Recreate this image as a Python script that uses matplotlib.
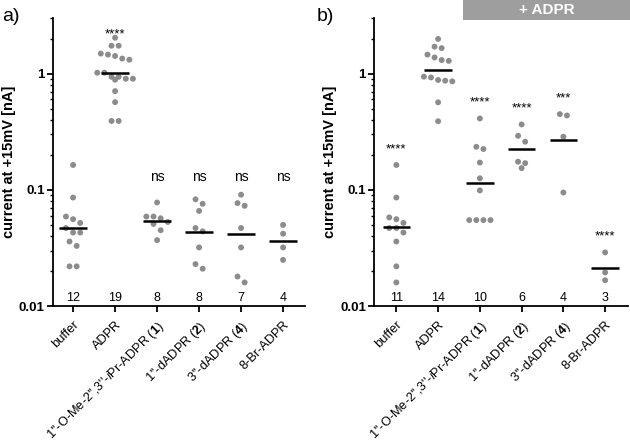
import matplotlib
matplotlib.use("Agg")
import matplotlib.pyplot as plt
from matplotlib.patches import Rectangle
from matplotlib.ticker import FixedLocator, LogLocator, NullFormatter
from matplotlib.transforms import ScaledTranslation
import numpy as np

plt.rcParams["font.family"] = ["Liberation Sans", "DejaVu Sans"]
plt.rcParams["mathtext.fontset"] = "custom"
plt.rcParams["mathtext.rm"] = "Liberation Sans"
plt.rcParams["mathtext.it"] = "Liberation Sans:italic"
plt.rcParams["mathtext.bf"] = "Liberation Sans:bold"

categories = [
    "buffer",
    "ADPR",
    r"1''-O-Me-2'',3''-$\mathit{i}$Pr-ADPR ($\mathbf{1}$)",
    r"1''-dADPR ($\mathbf{2}$)",
    r"3''-dADPR ($\mathbf{4}$)",
    "8-Br-ADPR",
]

# panel a: compounds alone
a_buffer = [0.164, 0.086, 0.059, 0.056, 0.052, 0.047, 0.043, 0.043, 0.036, 0.033, 0.022, 0.022]
a_adpr = [2.04, 1.74, 1.74, 1.49, 1.46, 1.42, 1.35, 1.32, 1.02, 1.02,
          0.94, 0.94, 0.905, 0.905, 0.887, 0.708, 0.569, 0.392, 0.392]
a_cmpd1 = [0.078, 0.059, 0.059, 0.057, 0.053, 0.051, 0.045, 0.037]
a_cmpd2 = [0.083, 0.076, 0.066, 0.047, 0.044, 0.032, 0.023, 0.021]
a_cmpd4 = [0.091, 0.077, 0.073, 0.047, 0.032, 0.018, 0.016]
a_8br = [0.050, 0.042, 0.032, 0.025]
a_sig = ["", "****", "ns", "ns", "ns", "ns"]

# panel b: compounds + ADPR
b_buffer = [0.164, 0.086, 0.058, 0.056, 0.052, 0.047, 0.047, 0.043, 0.036, 0.022, 0.016]
b_adpr = [1.99, 1.71, 1.66, 1.46, 1.38, 1.31, 1.29, 0.943, 0.929, 0.883, 0.871, 0.859, 0.567, 0.390]
b_cmpd1 = [0.412, 0.235, 0.225, 0.172, 0.126, 0.099, 0.055, 0.055, 0.055, 0.055]
b_cmpd2 = [0.366, 0.292, 0.260, 0.175, 0.170, 0.154]
b_cmpd4 = [0.449, 0.437, 0.287, 0.095]
b_8br = [0.029, 0.0195, 0.0167]
b_sig = ["****", "", "****", "****", "***", "****"]

DOT = "#8c8c8c"


def row_offsets(vals, h=0.055, step=0.17):
    # prism-style scatter: group points of similar height in rows, centred
    logv = np.log10(vals)
    order = np.argsort(logv)[::-1]
    rows, start = [], None
    for idx in order:
        if start is None or start - logv[idx] > h:
            rows.append([idx])
            start = logv[idx]
        else:
            rows[-1].append(idx)
    offs = np.zeros(len(vals))
    for r in rows:
        for k, idx in enumerate(r):
            offs[idx] = (k - (len(r) - 1) / 2) * step
    return offs


def draw_panel(fig, ax, groups, sig, star_off, xlim):
    for i, vals in enumerate(groups):
        vals = np.asarray(vals)
        x = i + row_offsets(vals)
        ax.scatter(x, vals, s=18, color=DOT, edgecolor="none", zorder=2)
        gm = 10 ** np.mean(np.log10(vals))
        ax.hlines(gm, i - 0.33, i + 0.33, color="black", lw=1.8, zorder=3)
        ax.annotate(str(len(vals)), (i, 0), xycoords=("data", "axes fraction"),
                    xytext=(0, 6), textcoords="offset points",
                    ha="center", va="center", fontsize=9)

    ns_top = max([max(g) for g, s in zip(groups, sig) if s == "ns"], default=None)
    for i, (vals, s) in enumerate(zip(groups, sig)):
        if not s:
            continue
        if s == "ns":
            ax.annotate(s, (i, ns_top), xytext=(0, 13), textcoords="offset points",
                        ha="center", va="center", fontsize=10)
        else:
            ax.annotate(s, (i, max(vals)), xytext=(0, star_off), textcoords="offset points",
                        ha="center", va="center", fontsize=9.5)

    ax.set_yscale("log")
    ax.set_ylim(0.01, 3)
    ax.set_xlim(*xlim)
    ax.yaxis.set_major_locator(FixedLocator([0.01, 0.1, 1]))
    ax.set_yticklabels(["0.01", "0.1", "1"], fontweight="bold", fontsize=9.5)
    ax.yaxis.set_minor_locator(LogLocator(base=10, subs=np.arange(2, 10)))
    ax.yaxis.set_minor_formatter(NullFormatter())
    ax.set_xticks(range(len(categories)))
    ax.set_xticklabels(categories, rotation=45, ha="right", va="top",
                       rotation_mode="anchor", fontsize=9.2)
    # plain labels sit further from the axis than the ones with a compound number
    for lab, name in zip(ax.get_xticklabels(), categories):
        if "$" in name:
            shift = ScaledTranslation(0.01, 0.12, fig.dpi_scale_trans)
        else:
            shift = ScaledTranslation(-0.12, -0.12, fig.dpi_scale_trans)
        lab.set_transform(lab.get_transform() + shift)
    ax.set_ylabel("current at +15mV [nA]", fontweight="bold", fontsize=10.5, labelpad=2)
    for side in ["top", "right"]:
        ax.spines[side].set_visible(False)
    for side in ["left", "bottom"]:
        ax.spines[side].set_linewidth(1.3)
    ax.tick_params(which="major", length=4, width=1.3, pad=2)
    ax.tick_params(axis="x", pad=5)
    ax.tick_params(which="minor", length=2.5, width=1.0)


fig = plt.figure(figsize=(6.3, 4.45), dpi=100)
ax_a = fig.add_axes([0.084, 0.312, 0.400, 0.647])
ax_b = fig.add_axes([0.594, 0.312, 0.403, 0.647])

draw_panel(fig, ax_a, [a_buffer, a_adpr, a_cmpd1, a_cmpd2, a_cmpd4, a_8br], a_sig, 2.5, (-0.48, 5.52))
draw_panel(fig, ax_b, [b_buffer, b_adpr, b_cmpd1, b_cmpd2, b_cmpd4, b_8br], b_sig, 11.5, (-0.53, 5.55))

fig.text(0.003, 0.962, "a)", fontsize=14, va="center", ha="left")
fig.text(0.503, 0.962, "b)", fontsize=14, va="center", ha="left")

fig.patches.append(Rectangle((0.735, 0.955), 0.265, 0.045, transform=fig.transFigure,
                             facecolor="#9e9e9e", edgecolor="none"))
fig.text(0.8675, 0.977, "+ ADPR", color="white", fontweight="bold", fontsize=11,
         ha="center", va="center")

fig.savefig("out.png", dpi=100)
